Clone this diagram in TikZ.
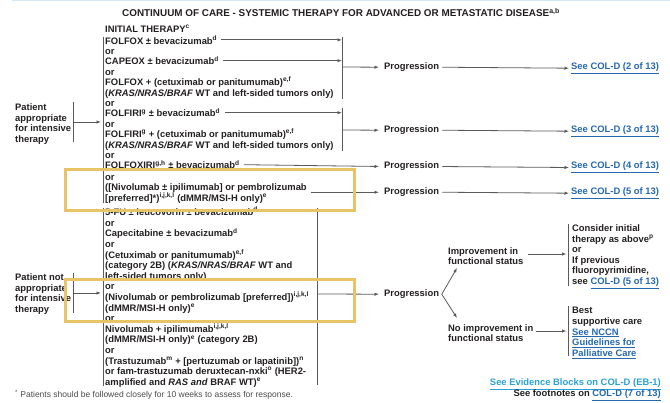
\documentclass[tikz,border=0pt]{standalone}
\usepackage{fontspec}
\setmainfont{Liberation Sans}
\usetikzlibrary{arrows.meta,calc}

\definecolor{ink}{HTML}{231F20}
\definecolor{rule}{HTML}{5A5A5A}
\definecolor{link}{HTML}{2468AE}
\definecolor{linklight}{HTML}{2AA0D8}
\definecolor{hilite}{HTML}{E8C467}
\definecolor{topline}{HTML}{D3E6F3}
\definecolor{note}{HTML}{4A4A4A}

\newcommand\lnk[1]{\textcolor{link}{\underline{#1}}}
\newcommand\sps[1]{\textsuperscript{#1}}

\tikzset{
  body/.style={font=\bfseries\fontsize{9.4}{10.5}\selectfont, text=ink, inner sep=0pt, anchor=mid west},
  block/.style={body, align=left, anchor=west},
  wire/.style={draw=rule, line width=0.8pt},
  arr/.style={wire, -{Latex[length=4.5pt,width=3.4pt]}},
  hbox/.style={draw=hilite, line width=3pt},
}

\begin{document}
\begin{tikzpicture}[x=1pt,y=-1pt]
\useasboundingbox (0,0) rectangle (670,403);

% header rule and title
\draw[topline, line width=1pt] (12,1) -- (670,1);
\node[font=\bfseries\fontsize{9.9}{12}\selectfont, text=ink, inner sep=0pt] (title) at (341,12.5)
  {CONTINUUM OF CARE - SYSTEMIC THERAPY FOR ADVANCED OR METASTATIC DISEASE\sps{a,b}};

% ---------------- initial therapy list ----------------
\node[body] (hdr) at (105,30) {INITIAL THERAPY\sps{c}};
\node[body] (u1) at (105,41.5) {FOLFOX ± bevacizumab\sps{d}};
\node[body] (u2) at (105,51.9) {or};
\node[body] (u3) at (105,62.3) {CAPEOX ± bevacizumab\sps{d}};
\node[body] (u4) at (105,72.7) {or};
\node[body] (u5) at (105,83.1) {FOLFOX + (cetuximab or panitumumab)\sps{e,f}};
\node[body] (u6) at (105,93.5) {(\textit{KRAS/NRAS/BRAF} WT and left-sided tumors only)};
\node[body] (u7) at (105,103.9) {or};
\node[body] (u8) at (105,114.3) {FOLFIRI\sps{g} ± bevacizumab\sps{d}};
\node[body] (u9) at (105,124.7) {or};
\node[body] (u10) at (105,135.1) {FOLFIRI\sps{g} + (cetuximab or panitumumab)\sps{e,f}};
\node[body] (u11) at (105,145.5) {(\textit{KRAS/NRAS/BRAF} WT and left-sided tumors only)};
\node[body] (u12) at (105,155.9) {or};
\node[body] (u13) at (105,166.3) {FOLFOXIRI\sps{g,h} ± bevacizumab\sps{d}};
\node[body] (u14) at (105,178) {or};
\node[body] (u15) at (105,188.3) {([Nivolumab ± ipilimumab] or pembrolizumab};
\node[body] (u16) at (105,198.7) {[preferred]*)\sps{i,j,k,l} (dMMR/MSI-H only)\sps{e}};

% ---------------- non-intensive list ----------------
\node[body] (l1) at (105,213) {5-FU ± leucovorin ± bevacizumab\sps{d}};
\node[body] (l2) at (105,223.6) {or};
\node[body] (l3) at (105,234.2) {Capecitabine ± bevacizumab\sps{d}};
\node[body] (l4) at (105,244.8) {or};
\node[body] (l5) at (105,255.4) {(Cetuximab or panitumumab)\sps{e,f}};
\node[body] (l6) at (105,266) {(category 2B) (\textit{KRAS/NRAS/BRAF} WT and};
\node[body] (l7) at (105,276.6) {left-sided tumors only)};
\node[body] (l8) at (105,287.2) {or};
\node[body] (l9) at (105,297.8) {(Nivolumab or pembrolizumab [preferred])\sps{i,j,k,l}};
\node[body] (l10) at (105,308.4) {(dMMR/MSI-H only)\sps{e}};
\node[body] (l11) at (105,319) {or};
\node[body] (l12) at (105,329.6) {Nivolumab + ipilimumab\sps{i,j,k,l}};
\node[body] (l13) at (105,340.2) {(dMMR/MSI-H only)\sps{e} (category 2B)};
\node[body] (l14) at (105,350.8) {or};
\node[body] (l15) at (105,361.4) {(Trastuzumab\sps{m} + [pertuzumab or lapatinib])\sps{n}};
\node[body] (l16) at (105,372) {or fam-trastuzumab deruxtecan-nxki\sps{o} (HER2-};
\node[body] (l17) at (105,382.6) {amplified and \textit{RAS and} BRAF WT)\sps{e}};

% list brackets
\coordinate (ulT) at (103,37);   \coordinate (ulB) at (103,203);
\coordinate (llT) at (103,208);  \coordinate (llB) at (103,386);
\draw[wire] (ulT) -- (ulB);
\draw[wire] (llT) -- (llB);

% ---------------- patient groups ----------------
\node[block] (pa) at (15,124) {Patient\\appropriate\\for intensive\\therapy};
\node[block] (pn) at (15,294) {Patient not\\appropriate\\for intensive\\therapy};
\coordinate (paT) at (73,102); \coordinate (paB) at (73,142); \coordinate (paM) at (73,122);
\coordinate (pnT) at (73,273); \coordinate (pnB) at (73,313); \coordinate (pnM) at (73,293);
\draw[wire] (paT) -- (paB);
\draw[wire] (pnT) -- (pnB);
\draw[arr, shorten >=4pt] (paM) -- (paM -| u1.west);
\draw[arr, shorten >=4pt] (pnM) -- (pnM -| l1.west);

% ---------------- progression column ----------------
\node[body] (p1) at (384,67) {Progression};
\node[body] (p2) at (384,130) {Progression};
\node[body] (p3) at (384,166.3) {Progression};
\node[body] (p4) at (384,192) {Progression};
\node[body] (p5) at (384,294) {Progression};

\node[body] (k1) at (571,67) {\lnk{See COL-D (2 of 13)}};
\node[body] (k2) at (571,130) {\lnk{See COL-D (3 of 13)}};
\node[body] (k3) at (571,166.3) {\lnk{See COL-D (4 of 13)}};
\node[body] (k4) at (571,192) {\lnk{See COL-D (5 of 13)}};

% right-hand brackets of the option groups
\coordinate (b1T) at (342,37);  \coordinate (b1B) at (342,99);  \coordinate (b1O) at (342,67);
\coordinate (b2T) at (342,108); \coordinate (b2B) at (342,151); \coordinate (b2O) at (342,130);
\coordinate (b3T) at (317,208); \coordinate (b3B) at (317,385); \coordinate (b3O) at (317,294);
\draw[wire] (b1T) -- (b1B);
\draw[wire] (b2T) -- (b2B);
\draw[wire] (b3T) -- (b3B);

\draw[arr] ([xshift=4pt]u1.east) -- (u1.east -| b1T);
\draw[arr] ([xshift=4pt]u3.east) -- (u3.east -| b1T);
\draw[arr] ([xshift=5pt]u8.east) -- (u8.east -| b2T);

\draw[arr, shorten >=5pt] (b1O) -- (p1.west);
\draw[arr, shorten >=5pt] (b2O) -- (p2.west);
\draw[arr, shorten >=5pt] ([xshift=4pt]u13.east) -- (p3.west);
\draw[arr, shorten >=5pt] ($(u15.east |- p4.west)+(4,0)$) -- (p4.west);
\draw[arr, shorten >=5pt] (b3O) -- (p5.west);

\foreach \i in {1,2,3,4}
  \draw[arr, shorten >=2pt] ([xshift=3pt]p\i.east) -- (k\i.west);

% ---------------- functional status branch ----------------
\node[block] (imp) at (448,256) {Improvement in\\functional status};
\node[block] (nimp) at (448,333) {No improvement in\\functional status};
\coordinate (fork) at ([xshift=2.5pt]p5.east);
\coordinate (upTip) at (457,268);
\coordinate (dnTip) at (457,318);
\draw[arr] (fork) -- (upTip);
\draw[arr] (fork) -- (dnTip);

\coordinate (r1T) at (568,224); \coordinate (r1B) at (568,286);
\coordinate (r2T) at (568,306); \coordinate (r2B) at (568,356);
\draw[wire] (r1T) -- (r1B);
\draw[wire] (r2T) -- (r2B);

\node[block, font=\bfseries\fontsize{9.4}{10.6}\selectfont] (o1) at (572,256.5)
  {Consider initial\\therapy as above\sps{p}\\or\\If previous\\fluoropyrimidine,\\see \lnk{COL-D (5 of 13)}};
\node[block, font=\bfseries\fontsize{9.4}{10.6}\selectfont] (o2) at (572,333)
  {Best\\supportive care\\\lnk{See NCCN}\\\lnk{Guidelines for}\\\lnk{Palliative Care}};

\draw[arr, shorten >=1.5pt] ($(imp.east |- 0,254)+(4,0)$) -- (r1T |- 0,254);
\draw[arr, shorten >=1.5pt] ($(nimp.east |- 0,331)+(2,0)$) -- (r2T |- 0,331);

% ---------------- footers ----------------
\node[body, anchor=mid east] (eb) at (661,383)
  {\textcolor{linklight}{\underline{See Evidence Blocks on COL-D (EB-1)}}};
\node[body, anchor=mid east] (fn) at (661,394) {See footnotes on \lnk{COL-D (7 of 13)}};
\node[font=\fontsize{8.5}{10}\selectfont, text=note, inner sep=0pt, anchor=mid west] (star) at (15,395)
  {\sps{*} Patients should be followed closely for 10 weeks to assess for response.};

% highlight frames
\draw[hbox] (65,169.5) rectangle (354,211);
\draw[hbox] (65,279.5) rectangle (354,322);
\end{tikzpicture}
\end{document}
